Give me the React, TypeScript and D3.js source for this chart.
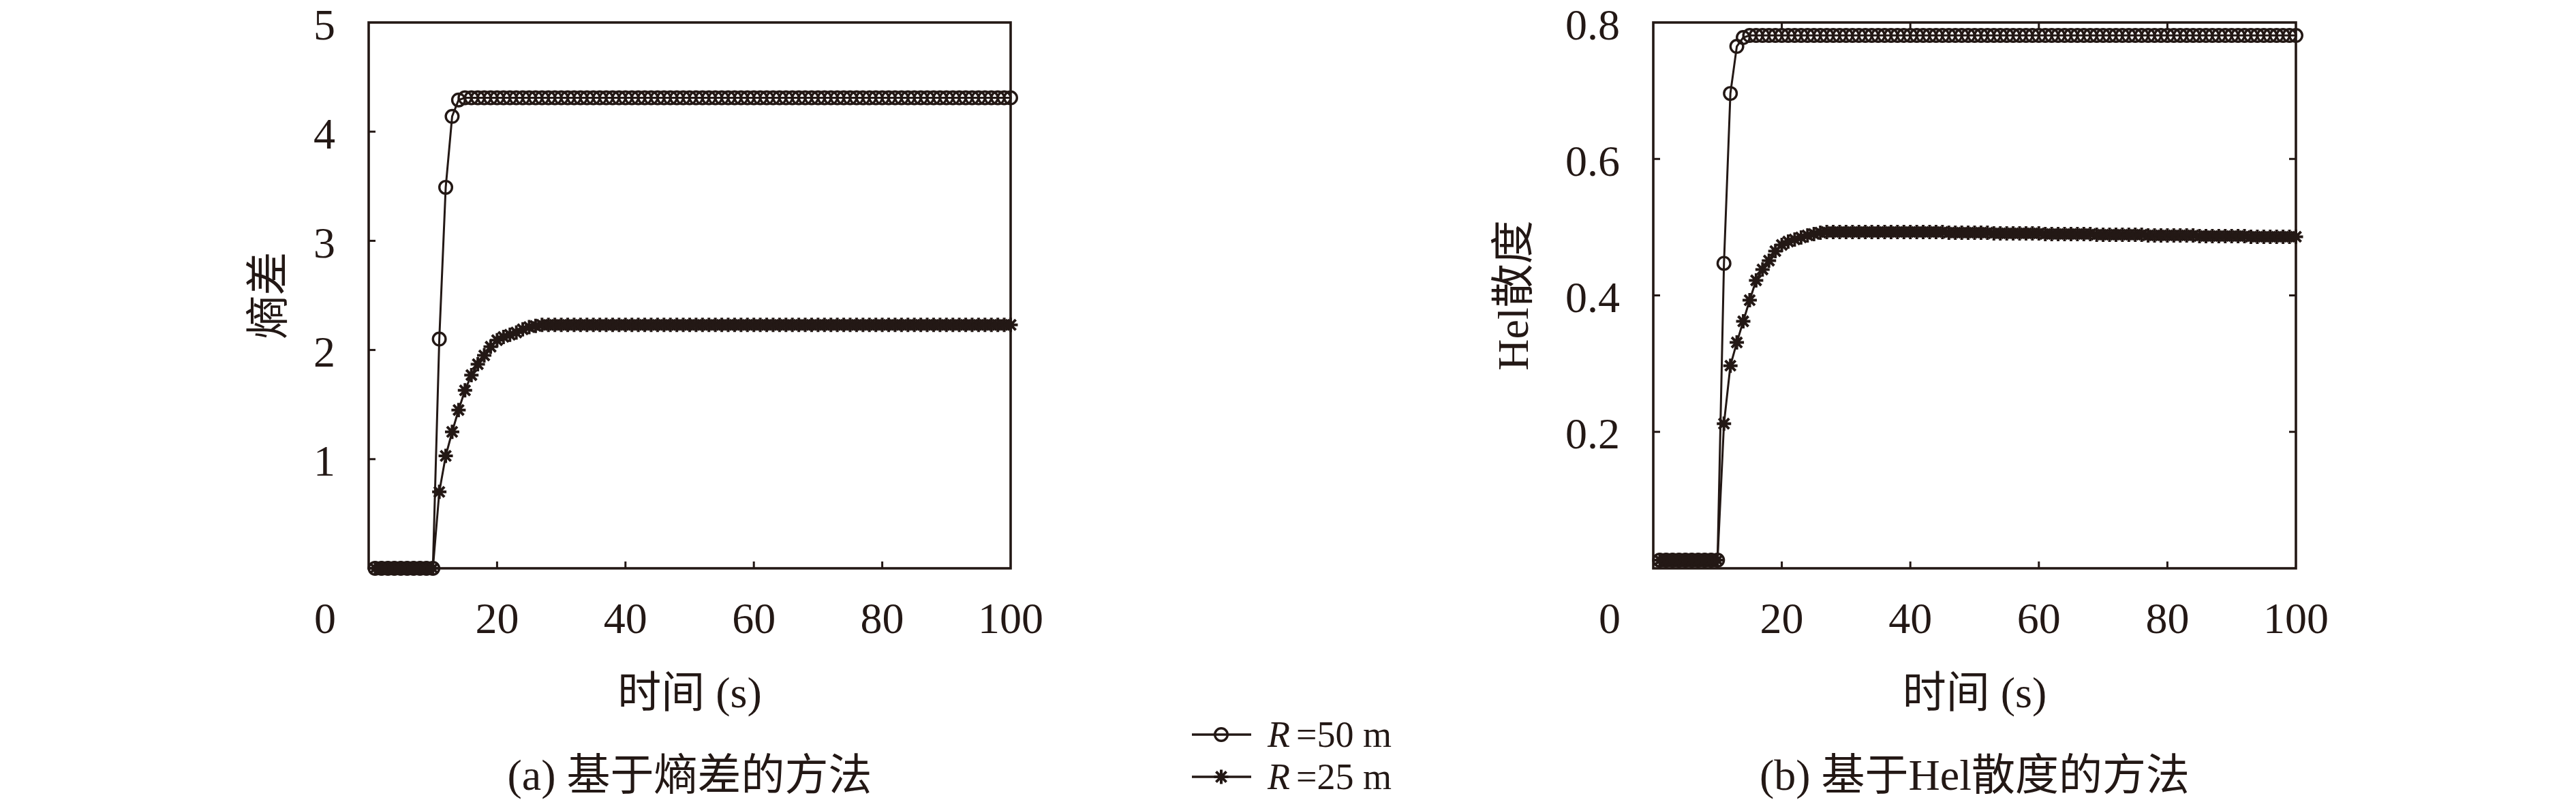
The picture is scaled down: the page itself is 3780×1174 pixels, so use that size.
import React from 'react';
import * as d3 from 'd3';

// ---------------- data ----------------
const TIME_START = 1; // first sample time (s)
const TIME_STEP = 1;  // sampling interval (s)

const xTickValues = [20, 40, 60, 80];
const xTickLabels = [0, 20, 40, 60, 80, 100];

const entropyTicks = [1, 2, 3, 4];
const entropyTickLabels = [1, 2, 3, 4, 5];
const helTicks = [0.2, 0.4, 0.6];
const helTickLabels = [0.2, 0.4, 0.6, 0.8];

const seriesSymbol = 'R';
const seriesValues = ['=50 m', '=25 m'];

// 熵差, R = 50 m
const entropyR50 = [
  0, 0, 0, 0, 0, 0, 0, 0, 0, 0,
  2.10, 3.49, 4.14, 4.29, 4.31, 4.31, 4.31, 4.31, 4.31, 4.31,
  4.31, 4.31, 4.31, 4.31, 4.31, 4.31, 4.31, 4.31, 4.31, 4.31,
  4.31, 4.31, 4.31, 4.31, 4.31, 4.31, 4.31, 4.31, 4.31, 4.31,
  4.31, 4.31, 4.31, 4.31, 4.31, 4.31, 4.31, 4.31, 4.31, 4.31,
  4.31, 4.31, 4.31, 4.31, 4.31, 4.31, 4.31, 4.31, 4.31, 4.31,
  4.31, 4.31, 4.31, 4.31, 4.31, 4.31, 4.31, 4.31, 4.31, 4.31,
  4.31, 4.31, 4.31, 4.31, 4.31, 4.31, 4.31, 4.31, 4.31, 4.31,
  4.31, 4.31, 4.31, 4.31, 4.31, 4.31, 4.31, 4.31, 4.31, 4.31,
  4.31, 4.31, 4.31, 4.31, 4.31, 4.31, 4.31, 4.31, 4.31, 4.31,
];

// 熵差, R = 25 m
const entropyR25 = [
  0, 0, 0, 0, 0, 0, 0, 0, 0, 0,
  0.70, 1.03, 1.25, 1.45, 1.63, 1.77, 1.87, 1.95, 2.03, 2.09,
  2.12, 2.14, 2.16, 2.19, 2.21, 2.22, 2.23, 2.23, 2.23, 2.23,
  2.23, 2.23, 2.23, 2.23, 2.23, 2.23, 2.23, 2.23, 2.23, 2.23,
  2.23, 2.23, 2.23, 2.23, 2.23, 2.23, 2.23, 2.23, 2.23, 2.23,
  2.23, 2.23, 2.23, 2.23, 2.23, 2.23, 2.23, 2.23, 2.23, 2.23,
  2.23, 2.23, 2.23, 2.23, 2.23, 2.23, 2.23, 2.23, 2.23, 2.23,
  2.23, 2.23, 2.23, 2.23, 2.23, 2.23, 2.23, 2.23, 2.23, 2.23,
  2.23, 2.23, 2.23, 2.23, 2.23, 2.23, 2.23, 2.23, 2.23, 2.23,
  2.23, 2.23, 2.23, 2.23, 2.23, 2.23, 2.23, 2.23, 2.23, 2.23,
];

// Hel散度, R = 50 m
const helR50 = [
  0.012, 0.012, 0.012, 0.012, 0.012, 0.012, 0.012, 0.012, 0.012, 0.012,
  0.447, 0.696, 0.765, 0.778, 0.781, 0.781, 0.781, 0.781, 0.781, 0.781,
  0.781, 0.781, 0.781, 0.781, 0.781, 0.781, 0.781, 0.781, 0.781, 0.781,
  0.781, 0.781, 0.781, 0.781, 0.781, 0.781, 0.781, 0.781, 0.781, 0.781,
  0.781, 0.781, 0.781, 0.781, 0.781, 0.781, 0.781, 0.781, 0.781, 0.781,
  0.781, 0.781, 0.781, 0.781, 0.781, 0.781, 0.781, 0.781, 0.781, 0.781,
  0.781, 0.781, 0.781, 0.781, 0.781, 0.781, 0.781, 0.781, 0.781, 0.781,
  0.781, 0.781, 0.781, 0.781, 0.781, 0.781, 0.781, 0.781, 0.781, 0.781,
  0.781, 0.781, 0.781, 0.781, 0.781, 0.781, 0.781, 0.781, 0.781, 0.781,
  0.781, 0.781, 0.781, 0.781, 0.781, 0.781, 0.781, 0.781, 0.781, 0.781,
];

// Hel散度, R = 25 m
const helR25 = [
  0.012, 0.012, 0.012, 0.012, 0.012, 0.012, 0.012, 0.012, 0.012, 0.012,
  0.212, 0.297, 0.331, 0.362, 0.393, 0.422, 0.438, 0.451, 0.465, 0.474,
  0.479, 0.482, 0.485, 0.488, 0.490, 0.492, 0.493, 0.493, 0.493, 0.493,
  0.493, 0.493, 0.493, 0.493, 0.493, 0.493, 0.493, 0.493, 0.493, 0.493,
  0.493, 0.493, 0.493, 0.493, 0.493, 0.492, 0.492, 0.492, 0.492, 0.492,
  0.492, 0.492, 0.491, 0.491, 0.491, 0.491, 0.491, 0.491, 0.491, 0.491,
  0.490, 0.490, 0.490, 0.490, 0.490, 0.490, 0.490, 0.490, 0.489, 0.489,
  0.489, 0.489, 0.489, 0.489, 0.489, 0.489, 0.488, 0.488, 0.488, 0.488,
  0.488, 0.488, 0.488, 0.488, 0.487, 0.487, 0.487, 0.487, 0.487, 0.487,
  0.487, 0.487, 0.486, 0.486, 0.486, 0.486, 0.486, 0.486, 0.486, 0.486,
];

// ---------------- style ----------------
const INK = '#231815';
const FONT = "'Liberation Serif', 'Noto Sans CJK SC', serif";
const FS = 64;
const LEGEND_FS = 54;
const TICK = 10;

type PanelCfg = {
  left: number; right: number; top: number; bottom: number;
  yDomain: [number, number];
  yTicks: number[]; yLabels: number[]; yFormat: (v: number) => string;
  mirrorTicks: boolean;
  yTitle: string; yTitleX: number;
  caption: string;
  r50: number[]; r25: number[];
};

const panelA: PanelCfg = {
  left: 541, right: 1483, top: 33, bottom: 834,
  yDomain: [0, 5], yTicks: entropyTicks, yLabels: entropyTickLabels,
  yFormat: (v) => d3.format('d')(v),
  mirrorTicks: false,
  yTitle: '熵差', yTitleX: 393,
  caption: '(a) 基于熵差的方法',
  r50: entropyR50, r25: entropyR25,
};

const panelB: PanelCfg = {
  left: 2426, right: 3369, top: 33, bottom: 834,
  yDomain: [0, 0.8], yTicks: helTicks, yLabels: helTickLabels,
  yFormat: (v) => d3.format('.1f')(v),
  mirrorTicks: true,
  yTitle: 'Hel散度', yTitleX: 2220,
  caption: '(b) 基于Hel散度的方法',
  r50: helR50, r25: helR25,
};

const STAR_R = 10.5;
const starPath = (() => {
  const s = STAR_R, d = STAR_R * 0.72;
  return `M${-s},0H${s}M0,${-s}V${s}M${-d},${-d}L${d},${d}M${-d},${d}L${d},${-d}`;
})();

function Circle({ cx, cy }: { cx: number; cy: number }) {
  return <circle cx={cx} cy={cy} r={9.3} fill="none" stroke={INK} strokeWidth={3.4} />;
}
function Star({ cx, cy }: { cx: number; cy: number }) {
  return <path d={starPath} transform={`translate(${cx},${cy})`} fill="none" stroke={INK} strokeWidth={4} />;
}

function Panel({ cfg }: { cfg: PanelCfg }) {
  const x = d3.scaleLinear().domain([0, 100]).range([cfg.left, cfg.right]);
  const y = d3.scaleLinear().domain(cfg.yDomain).range([cfg.bottom, cfg.top]);
  const tOf = (i: number) => TIME_START + i * TIME_STEP;
  const line = d3.line<number>().x((_, i) => x(tOf(i))).y((d) => y(d));
  const cx = (cfg.left + cfg.right) / 2;
  const cy = (cfg.top + cfg.bottom) / 2;

  return (
    <g>
      <rect x={cfg.left} y={cfg.top} width={cfg.right - cfg.left} height={cfg.bottom - cfg.top}
        fill="none" stroke={INK} strokeWidth={3.6} />
      {xTickValues.map((v) => (
        <g key={'xt' + v}>
          <line x1={x(v)} x2={x(v)} y1={cfg.bottom} y2={cfg.bottom - TICK} stroke={INK} strokeWidth={3} />
          {cfg.mirrorTicks && (
            <line x1={x(v)} x2={x(v)} y1={cfg.top} y2={cfg.top + TICK} stroke={INK} strokeWidth={3} />
          )}
        </g>
      ))}
      {cfg.yTicks.map((v) => (
        <g key={'yt' + v}>
          <line x1={cfg.left} x2={cfg.left + TICK} y1={y(v)} y2={y(v)} stroke={INK} strokeWidth={3} />
          {cfg.mirrorTicks && (
            <line x1={cfg.right} x2={cfg.right - TICK} y1={y(v)} y2={y(v)} stroke={INK} strokeWidth={3} />
          )}
        </g>
      ))}
      {xTickLabels.map((v) => (
        <text key={'xl' + v} x={v === 0 ? x(v) - 64 : x(v)} y={907} fontSize={FS} fontFamily={FONT}
          fill={INK} textAnchor="middle" dominantBaseline="central">{v}</text>
      ))}
      {cfg.yLabels.map((v) => (
        <text key={'yl' + v} x={cfg.left - 49} y={y(v) + 3} fontSize={FS} fontFamily={FONT}
          fill={INK} textAnchor="end" dominantBaseline="central">{cfg.yFormat(v)}</text>
      ))}
      <text x={cx} y={1016} fontSize={FS} fontFamily={FONT} fill={INK} textAnchor="middle"
        dominantBaseline="central">时间 (s)</text>
      <text transform={`translate(${cfg.yTitleX},${cy}) rotate(-90)`} fontSize={FS} fontFamily={FONT}
        fill={INK} textAnchor="middle" dominantBaseline="central">{cfg.yTitle}</text>
      <text x={cx} y={1137} fontSize={FS} fontFamily={FONT} fill={INK} textAnchor="middle"
        dominantBaseline="central">{cfg.caption}</text>
      <path d={line(cfg.r50) || ''} fill="none" stroke={INK} strokeWidth={3} />
      {cfg.r50.map((d, i) => <Circle key={'c' + i} cx={x(tOf(i))} cy={y(d)} />)}
      <path d={line(cfg.r25) || ''} fill="none" stroke={INK} strokeWidth={3} />
      {cfg.r25.map((d, i) => <Star key={'s' + i} cx={x(tOf(i))} cy={y(d)} />)}
    </g>
  );
}

function Legend() {
  const items = [
    { value: seriesValues[0], y: 1078, marker: 'circle' },
    { value: seriesValues[1], y: 1140, marker: 'star' },
  ];
  return (
    <g>
      {items.map((it) => (
        <g key={it.value}>
          <line x1={1749} x2={1836} y1={it.y} y2={it.y} stroke={INK} strokeWidth={3.6} />
          {it.marker === 'circle' ? <Circle cx={1792} cy={it.y} /> : <Star cx={1792} cy={it.y} />}
          <text x={1860} y={it.y} fontSize={LEGEND_FS} fontFamily={FONT} fontStyle="italic" fill={INK}
            dominantBaseline="central">{seriesSymbol}</text>
          <text x={1902} y={it.y} fontSize={LEGEND_FS} fontFamily={FONT} fill={INK}
            dominantBaseline="central">{it.value}</text>
        </g>
      ))}
    </g>
  );
}

export default function App() {
  return (
    <svg width={3780} height={1174} viewBox="0 0 3780 1174"
      style={{ position: 'absolute', left: 0, top: 0, display: 'block', background: '#fff' }}>
      <rect x={0} y={0} width={3780} height={1174} fill="#fff" />
      <Panel cfg={panelA} />
      <Panel cfg={panelB} />
      <Legend />
    </svg>
  );
}
